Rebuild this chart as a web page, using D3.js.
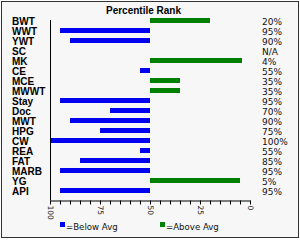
<!DOCTYPE html>
<html><head><meta charset="utf-8">
<script src="https://cdn.jsdelivr.net/npm/d3@7"></script>
<style>body{margin:0;background:#fff}svg{display:block}</style>
</head><body>
<svg id="c" width="300" height="240"></svg>
<script>
const categories = ["BWT","WWT","YWT","SC","MK","CE","MCE","MWWT","Stay","Doc","MWT","HPG","CW","REA","FAT","MARB","YG","API"];
const ranks = [20,95,90,null,4,55,35,35,95,70,90,75,100,55,85,95,5,95];
const rankLabels = ["20%","95%","90%","N/A","4%","55%","35%","35%","95%","70%","90%","75%","100%","55%","85%","95%","5%","95%"];
const tickLabels = [100,75,50,25,0];
const legendItems = ["=Below Avg","=Above Avg"];
const colors = {below:"#0000f0", above:"#008000"};

const svg = d3.select("#c");
svg.append("rect").attr("x",1.5).attr("y",1.5).attr("width",297).attr("height",236)
  .attr("fill","#f7f7f7").attr("stroke","#333").attr("stroke-width",1);

svg.append("text").attr("x",143.5).attr("y",14).attr("text-anchor","middle")
  .attr("font-family","Liberation Sans, Arial, sans-serif").attr("font-weight","bold")
  .attr("font-size",10).attr("fill","#000").text("Percentile Rank");

const x = d3.scaleLinear().domain([100,0]).range([50,250]);
const y = d3.scaleBand().domain(categories).range([15.5,195.5]).paddingInner(0.5).paddingOuter(0.25);

const data = categories.map((c,i)=>({c, r:ranks[i], l:rankLabels[i]}));

svg.append("g").selectAll("rect").data(data.filter(d=>d.r!==null)).join("rect")
  .attr("x",d=>Math.min(x(d.r),x(50)))
  .attr("width",d=>Math.abs(x(d.r)-x(50)))
  .attr("y",d=>y(d.c)+ (y.step()-y.bandwidth())/2 - (y.step()-y.bandwidth())/2)
  .attr("height",y.bandwidth())
  .attr("fill",d=>d.r>50?colors.below:colors.above);

// category labels
svg.append("g").selectAll("text").data(data).join("text")
  .attr("x",12).attr("y",d=>y(d.c)+y.bandwidth()/2+4.5)
  .attr("font-family","Liberation Sans, Arial, sans-serif").attr("font-weight","bold")
  .attr("font-size",10).attr("fill","#000").text(d=>d.c);

// rank labels
svg.append("g").selectAll("text").data(data).join("text")
  .attr("x",262).attr("y",d=>y(d.c)+y.bandwidth()/2+4.5)
  .attr("font-family","DejaVu Sans, Verdana, sans-serif")
  .attr("font-size",9).attr("fill","#111").text(d=>d.l);

// vertical axis line
svg.append("line").attr("x1",50.5).attr("x2",50.5).attr("y1",20).attr("y2",200.5)
  .attr("stroke","#000").attr("stroke-width",1);

// x axis
const xAxis = d3.axisBottom(x).tickValues(d3.range(0,101,5)).tickSize(4).tickSizeOuter(0)
  .tickFormat(d=>tickLabels.includes(d)?d:"");
const gx = svg.append("g").attr("transform","translate(0,200.5)").call(xAxis);
gx.select(".domain").attr("stroke","#000");
gx.selectAll(".tick line").attr("stroke","#000");
gx.selectAll(".tick text")
  .attr("font-family","DejaVu Sans, Verdana, sans-serif").attr("font-size",7.5).attr("fill","#222")
  .attr("text-anchor","start").attr("dy",null).attr("y",null)
  .attr("transform","translate(0,5) rotate(90)")
  .attr("dominant-baseline","central");

// legend
const lg = svg.append("g");
[[60,colors.below,legendItems[0]],[160,colors.above,legendItems[1]]].forEach(([lx,col,t])=>{
  lg.append("rect").attr("x",lx).attr("y",222).attr("width",5).attr("height",5).attr("fill",col);
  lg.append("text").attr("x",lx+6).attr("y",229.5)
    .attr("font-family","DejaVu Sans, Verdana, sans-serif").attr("font-size",8.6)
    .attr("fill","#111").text(t);
});
</script>
</body></html>
